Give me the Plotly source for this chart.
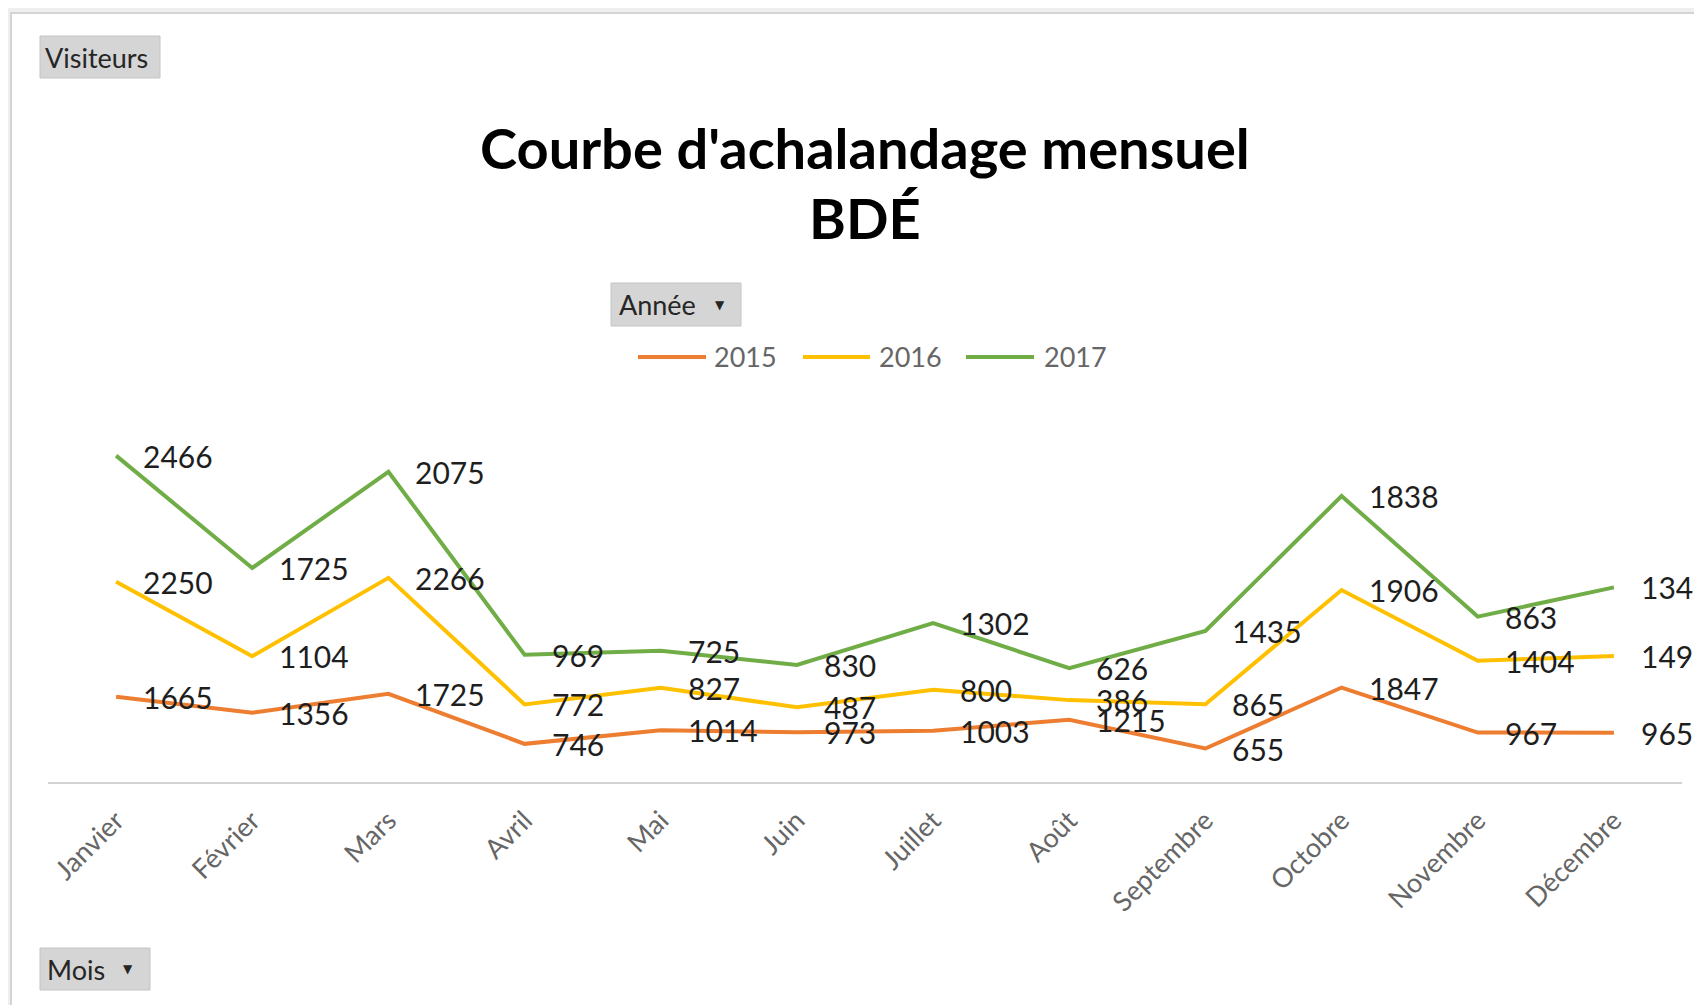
import plotly.graph_objects as go
import numpy as np

mois = ["Janvier", "Février", "Mars", "Avril", "Mai", "Juin", "Juillet",
        "Août", "Septembre", "Octobre", "Novembre", "Décembre"]
annees = ["2015", "2016", "2017"]
v2015 = [1665, 1356, 1725, 746, 1014, 973, 1003, 1215, 655, 1847, 967, 965]
v2016 = [2250, 1104, 2266, 772, 827, 487, 800, 386, 865, 1906, 1404, 1498]
v2017 = [2466, 1725, 2075, 969, 725, 830, 1302, 626, 1435, 1838, 863, 1343]
series = [v2015, v2016, v2017]
couleurs = ["#ED7D31", "#FFC000", "#70AD47"]

OFF = 8  # page body margin
W, H = 1702 - OFF, 1005 - OFF
L, R, T, B = 40, 20, 416, 223
YMAX = 7000
PW, PH = W - L - R, H - T - B

def px(x):
    return (x - OFF - L) / PW

def py(y):
    return (H - B - (y - OFF)) / PH

fig = go.Figure()
for nom, vals, c in zip(annees, series, couleurs):
    fig.add_trace(go.Scatter(
        x=mois, y=vals, name=nom, mode="lines", stackgroup="s", fill="none",
        line=dict(color=c, width=4), hoverinfo="skip", showlegend=False))

cum = np.cumsum(np.array(series), axis=0)
annotations = []
for vals, cvals in zip(series, cum):
    for m, v, cv in zip(mois, vals, cvals):
        annotations.append(dict(
            x=m, y=float(cv), xref="x", yref="y", text=str(v), showarrow=False,
            xanchor="left", yanchor="middle", xshift=25,
            font=dict(family="Lato, sans-serif", size=30, color="#1e1e1e")))

# Title
for txt, yy in [("<b>Courbe d'achalandage mensuel</b>", 147), ("<b>BDÉ</b>", 217)]:
    annotations.append(dict(x=px(865), y=py(yy), xref="paper", yref="paper",
                            text=txt, showarrow=False, xanchor="center", yanchor="middle",
                            font=dict(family="Lato, sans-serif", size=56, color="#000000")))

shapes = [
    dict(type="rect", xref="paper", yref="paper", x0=px(11), x1=px(1702 + 20),
         y0=py(13), y1=py(1005 + 20), fillcolor="white",
         line=dict(color="#d4d4d4", width=2), layer="below"),
]

# Legend (drawn manually to match Excel's long legend keys)
leg_items = [(638, 706, 712), (803, 870, 877), (966, 1034, 1042)]
for nom, c, (l0, l1, tx) in zip(annees, couleurs, leg_items):
    shapes.append(dict(type="line", xref="paper", yref="paper",
                       x0=px(l0), x1=px(l1), y0=py(357), y1=py(357),
                       line=dict(color=c, width=4)))
    annotations.append(dict(x=px(tx), y=py(357), xref="paper", yref="paper",
                            text=nom, showarrow=False, xanchor="left", yanchor="middle",
                            font=dict(family="Lato, sans-serif", size=27, color="#666666")))

def bouton(x0, y0, x1, y1, texte, tx, arrow_x=None):
    shapes.append(dict(type="rect", xref="paper", yref="paper",
                       x0=px(x0), x1=px(x1), y0=py(y0), y1=py(y1),
                       fillcolor="#d5d5d5", line=dict(color="#c4c4c4", width=1),
                       layer="below"))
    annotations.append(dict(x=px(tx), y=py((y0 + y1) / 2), xref="paper", yref="paper",
                            text=texte, showarrow=False, xanchor="left", yanchor="middle",
                            font=dict(family="Lato, sans-serif", size=27, color="#262626")))
    if arrow_x is not None:
        annotations.append(dict(x=px(arrow_x), y=py((y0 + y1) / 2), xref="paper",
                                yref="paper", text="▼", showarrow=False,
                                xanchor="center", yanchor="middle",
                                font=dict(family="DejaVu Sans", size=12, color="#262626")))

bouton(40, 36, 160, 78, "Visiteurs", 43)
bouton(611, 283, 741, 326, "Année", 617, 720)
bouton(40, 948, 150, 990, "Mois", 45, 128)

fig.update_layout(
    width=W, height=H,
    margin=dict(l=L, r=R, t=T, b=B, pad=0),
    paper_bgcolor="#efefef", plot_bgcolor="rgba(0,0,0,0)",
    showlegend=False,
    xaxis=dict(type="category", range=[-0.5, 11.5], showgrid=False, zeroline=False,
               showline=True, linecolor="#d3d3d3", linewidth=2, ticks="",
               tickangle=-45, ticklabelstandoff=10,
               tickfont=dict(family="Lato, sans-serif", size=27, color="#666666"),
               fixedrange=True),
    yaxis=dict(range=[0, YMAX], visible=False, showgrid=False, zeroline=False,
               fixedrange=True),
    annotations=annotations, shapes=shapes,
)

fig.write_html("out.html")
